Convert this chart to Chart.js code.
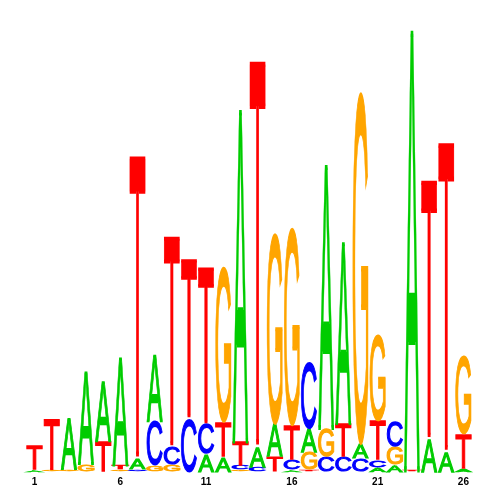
<!DOCTYPE html>
<html>
<head>
<meta charset="utf-8">
<script src="https://cdn.jsdelivr.net/npm/chart.js@4/dist/chart.umd.min.js"></script>
<style>
	body { margin: 0; background: #fff; }
	canvas { display: block; }
</style>
</head>
<body>
<canvas id="canvas" width="500" height="500"></canvas>
<script>
// sequence logo data, letter heights in bits per position
var positions = ['1','2','3','4','5','6','7','8','9','10','11','12','13','14','15','16','17','18','19','20','21','22','23','24','25','26'];
var heightA = [0.01,0,   0.23,0.42,0.27,0.49,0.05,0.30,0,   0,   0.08,0.07,1.50,0.09,0.15,0.01,0.11,1.19,0.82,0.07,0.02,0.035,1.99,0.15,0.09,0.015];
var heightC = [0,   0,   0,   0,   0,   0,   0.01,0.20,0.08,0.24,0.14,0,   0.02,0.02,0,   0.045,0.30,0.07,0.07,0.06,0.035,0.12,0,   0,   0,   0];
var heightG = [0,   0.01,0.01,0.035,0,  0.01,0,   0.03,0.035,0,  0,   0.70,0.01,0,   0.86,0.89,0.08,0.13,0,   1.59,0.39,0.08,0,   0,   0,   0.35];
var heightT = [0.11,0.23,0,   0,   0.14,0.02,1.37,0,   0.95,0.72,0.71,0.16,0.11,1.75,0.07,0.16,0.01,0,   0.15,0,   0.18,0,   0.01,1.17,1.40,0.16];
var tickLabels = ['1','6','11','16','21','26'];
var letterColors = { A: '#00CC00', C: '#0000FF', G: '#FFA500', T: '#FF0000' };

var totals = positions.map(function(p, i) {
	return heightA[i] + heightC[i] + heightG[i] + heightT[i];
});

var logoPlugin = {
	id: 'logo',
	afterDatasetsDraw: function(chart) {
		var ctx = chart.ctx;
		var xs = chart.scales.x, ys = chart.scales.y;
		var slot = xs.width / positions.length;
		var w = slot * 0.9;
		ctx.save();
		ctx.font = '100px "Liberation Sans"';
		ctx.textAlign = 'left';
		ctx.textBaseline = 'alphabetic';
		for (var i = 0; i < positions.length; i++) {
			var stack = [
				{ l: 'A', h: heightA[i] }, { l: 'C', h: heightC[i] },
				{ l: 'G', h: heightG[i] }, { l: 'T', h: heightT[i] }
			].filter(function(s) { return s.h > 0; });
			// smallest letter at the bottom
			stack.sort(function(a, b) { return a.h - b.h; });
			var xc = xs.getPixelForValue(i);
			var base = 0;
			stack.forEach(function(s) {
				var yBot = ys.getPixelForValue(base);
				var yTop = ys.getPixelForValue(base + s.h);
				base += s.h;
				var m = ctx.measureText(s.l);
				var bw = m.actualBoundingBoxLeft + m.actualBoundingBoxRight;
				var bh = m.actualBoundingBoxAscent + m.actualBoundingBoxDescent;
				var hh = Math.max(yBot - yTop - 1, 0.5);
				var sx = w / bw, sy = hh / bh;
				ctx.save();
				ctx.translate(xc - w / 2, yTop + 0.5);
				ctx.scale(sx, sy);
				ctx.fillStyle = letterColors[s.l];
				ctx.strokeStyle = letterColors[s.l];
				ctx.lineWidth = 1.2 / Math.sqrt(sx * sy);
				ctx.fillText(s.l, m.actualBoundingBoxLeft, m.actualBoundingBoxAscent);
				// thin outline so the small letters keep some weight
				ctx.strokeText(s.l, m.actualBoundingBoxLeft, m.actualBoundingBoxAscent);
				ctx.restore();
			});
		}
		ctx.restore();
	}
};

var ctx = document.getElementById("canvas").getContext("2d");
var config = {
	type : 'bar',
	data : {
		labels : positions,
		datasets : [{
			data : totals,
			backgroundColor : 'rgba(0,0,0,0)',
			borderWidth : 0
		}]
	},
	options : {
		responsive : false,
		animation : false,
		layout : { padding : { left : 26, right : 28, top : 32, bottom : 8 } },
		plugins : {
			legend : { display : false },
			tooltip : { enabled : false }
		},
		scales : {
			x : {
				grid : { display : false, drawTicks : false },
				border : { display : false },
				ticks : {
					autoSkip : false,
					maxRotation : 0,
					padding : 4,
					color : '#000',
					font : { family : 'Liberation Sans', size : 10, weight : 'bold' },
					callback : function(value) {
						var lab = this.getLabelForValue(value);
						return tickLabels.indexOf(lab) >= 0 ? lab : '';
					}
				}
			},
			y : {
				display : false,
				min : 0,
				max : 2
			}
		}
	},
	plugins : [logoPlugin]
};
window.myLogo = new Chart(ctx, config);
</script>
</body>
</html>
